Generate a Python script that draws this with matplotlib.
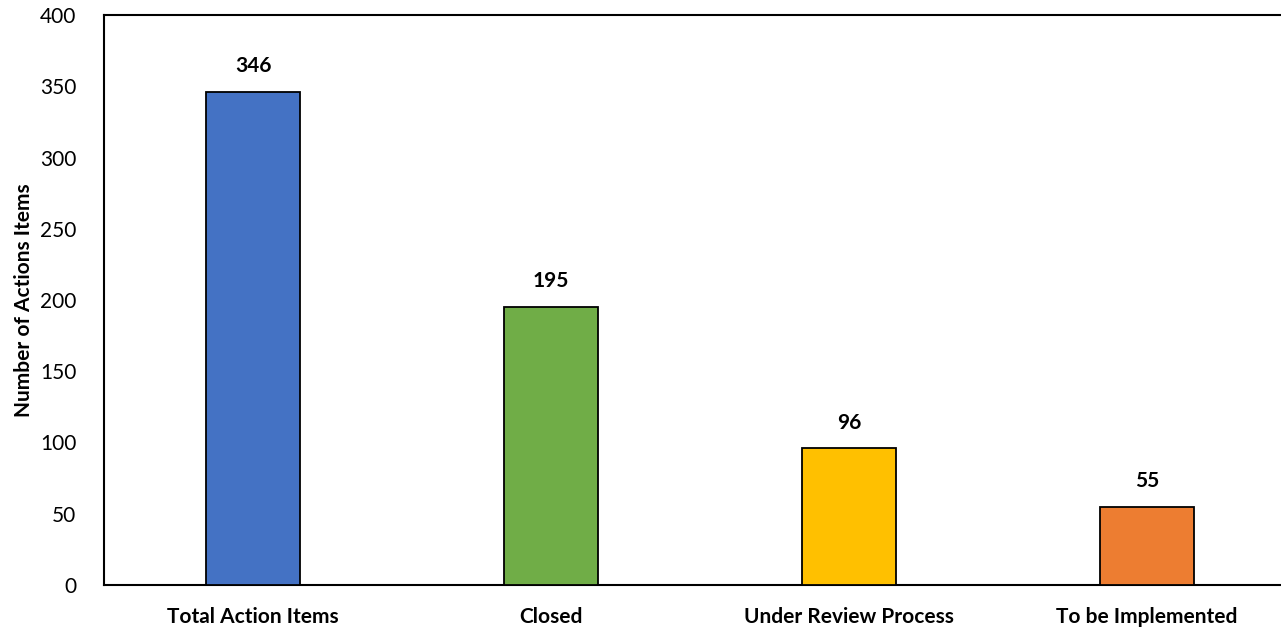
import matplotlib
matplotlib.use("Agg")
import matplotlib.pyplot as plt

categories = ["Total Action Items", "Closed", "Under Review Process", "To be Implemented"]
values = [346, 195, 96, 55]
colors = ["#4472C4", "#70AD47", "#FFC000", "#ED7D31"]
yticks = [0, 50, 100, 150, 200, 250, 300, 350, 400]

plt.rcParams['font.family'] = ['Lato', 'DejaVu Sans']

fig = plt.figure(figsize=(12.81, 6.27), dpi=100)
ax = fig.add_axes([104/1281, 42/627, 1192/1281, (585-15)/627])
x = list(range(len(categories)))
bars = ax.bar(x, values, width=94/298, color=colors, edgecolor="black", linewidth=1.3, zorder=3)
for xi, v in zip(x, values):
    ax.text(xi, v + 11, str(v), ha="center", va="bottom", fontsize=15, fontweight="bold")

ax.set_xlim(-0.5, 3.5)
ax.set_ylim(0, 400)
ax.set_yticks(yticks)
ax.set_yticklabels([str(t) for t in yticks], fontsize=15)
ax.set_xticks(x)
ax.set_xticklabels(categories, fontsize=15, fontweight="bold")
ax.tick_params(axis="both", length=0)
ax.tick_params(axis="x", pad=16)
ax.tick_params(axis="y", pad=20)
ax.set_ylabel("Number of Actions Items", fontsize=15, fontweight="bold", labelpad=4)
for s in ax.spines.values():
    s.set_linewidth(1.5)
    s.set_color("black")
ax.spines["right"].set_visible(False)

fig.savefig("out.png", dpi=100)
